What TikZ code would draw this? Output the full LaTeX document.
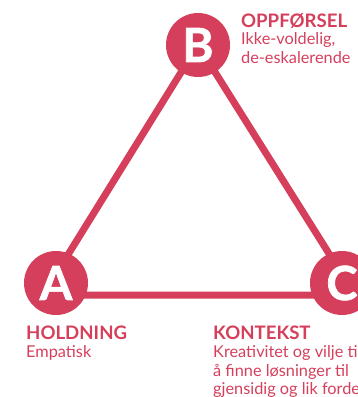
\documentclass[tikz,border=0pt]{standalone}
\usepackage{fontspec}
\setmainfont{Lato}
\definecolor{rose}{HTML}{D53F5C}
\tikzset{
  vertex/.style={circle,fill=rose,minimum size=64pt,inner sep=0pt,text=white,font=\fontsize{47}{47}\selectfont\bfseries\addfontfeature{FakeBold=1.5}},
  edge/.style={draw=rose,line width=7pt},
  head/.style={anchor=base west,inner sep=0pt,text=rose,font=\fontsize{18.6}{18.6}\selectfont\bfseries},
  body/.style={anchor=base west,inner sep=0pt,text=rose,font=\fontsize{16.3}{16.3}\selectfont},
}
\begin{document}
\begin{tikzpicture}[x=1pt,y=-1pt]
\useasboundingbox (0,0) rectangle (358,397);
\clip (0,0) rectangle (358,397);
\coordinate (al) at (43,295);
\coordinate (bt) at (198,45);
\coordinate (cr) at (355,295);
\draw[edge,line join=round] (al) -- (bt) -- (cr) -- cycle;
\node[vertex] (a) at (56,283) {A};
\node[vertex] (b) at (198,45) {B};
\node[vertex] (c) at (342,283) {C};
\node[head] (h1) at (241,27) {OPPFØRSEL};
\node[body] (t1) at (241,44) {Ikke-voldelig,};
\node[body] (t2) at (241,63) {de-eskalerende};
\node[head] (h2) at (26,339) {HOLDNING};
\node[body] (t3) at (26,357) {Empatisk};
\node[head] (h3) at (213,339) {KONTEKST};
\node[body] (t4) at (213,357) {Kreativitet og vilje til};
\node[body] (t5) at (213,376) {å finne løsninger til};
\node[body] (t6) at (213,394) {gjensidig og lik fordeling};
\end{tikzpicture}
\end{document}
